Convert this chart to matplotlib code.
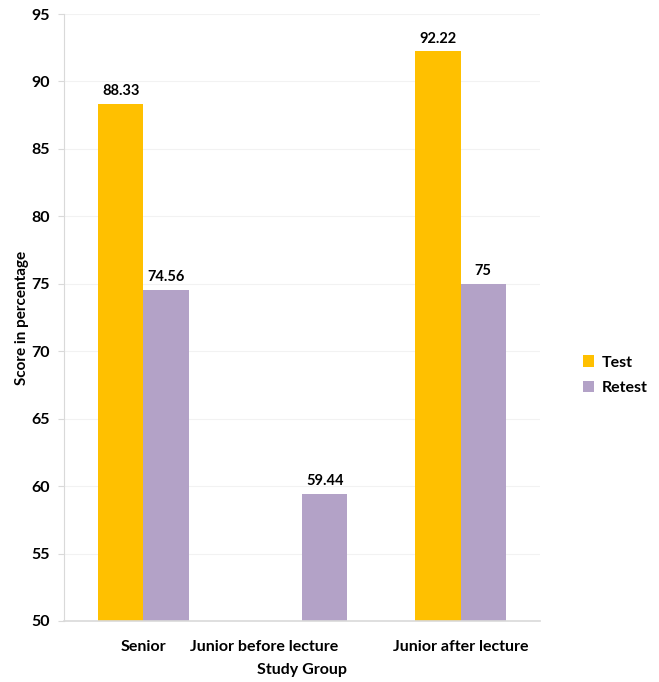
import numpy as np
import matplotlib.pyplot as plt
import matplotlib.transforms as mtransforms

groups = ["Senior", "Junior before lecture", "Junior after lecture"]
test = [88.33, np.nan, 92.22]
retest = [74.56, 59.44, 75]
test_labels = ["88.33", "", "92.22"]
retest_labels = ["74.56", "59.44", "75"]

plt.rcParams['font.family'] = ['Lato', 'DejaVu Sans']
plt.rcParams['font.weight'] = 'bold'

fig = plt.figure(figsize=(6.59, 6.82), dpi=100)
ax = fig.add_axes([64 / 659, 61 / 682, 476 / 659, 607 / 682])

x = np.arange(len(groups))
w = 0.285
b1 = ax.bar(x - w / 2, np.array(test) - 50, w, bottom=50, color="#FFC000", label="Test")
b2 = ax.bar(x + w / 2, np.array(retest) - 50, w, bottom=50, color="#B3A2C7", label="Retest")

for bars, vals, labs in [(b1, test, test_labels), (b2, retest, retest_labels)]:
    for r, v, t in zip(bars, vals, labs):
        if t:
            ax.annotate(t, (r.get_x() + r.get_width() / 2, v), xytext=(0, 4),
                        textcoords="offset points", ha="center", va="bottom",
                        fontsize=10.5, fontweight="bold")

ax.set_ylim(50, 95)
ax.set_xlim(-0.5, 2.5)
ax.set_yticks(np.arange(50, 96, 5))
ax.yaxis.grid(True, color="#f2f2f2", linewidth=0.8)
ax.set_axisbelow(True)
ax.set_xticks(x)
ax.set_xticklabels(groups)
ax.tick_params(axis="x", length=0, pad=14, labelsize=11.5)
ax.tick_params(axis="y", length=4, color="#d9d9d9", labelsize=11.5, pad=6)
# Excel-like offset of the middle label
lbl = ax.get_xticklabels()[1]
lbl.set_transform(lbl.get_transform() + mtransforms.ScaledTranslation(-0.38, 0, fig.dpi_scale_trans))

for s in ["top", "right"]:
    ax.spines[s].set_visible(False)
ax.spines["left"].set_color("#d9d9d9")
ax.spines["bottom"].set_color("#d9d9d9")
ax.spines["bottom"].set_linewidth(1.2)

ax.set_ylabel("Score in percentage", fontsize=11, fontweight="bold", labelpad=2)
ax.set_xlabel("Study Group", fontsize=11.5, fontweight="bold", labelpad=6)

ax.legend(loc="center left", bbox_to_anchor=(1.06, 0.405), frameon=False,
          handlelength=0.7, handleheight=0.7, fontsize=11.5, labelspacing=0.7,
          handletextpad=0.5)

fig.savefig("out.png", dpi=100)
